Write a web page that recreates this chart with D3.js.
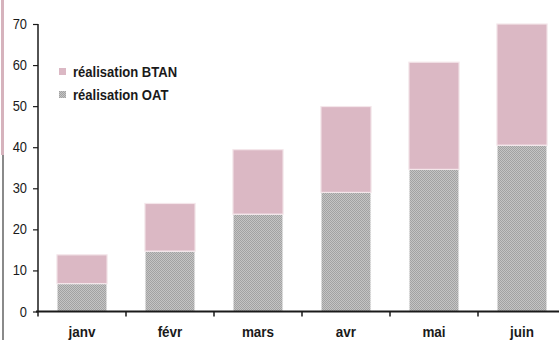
<!DOCTYPE html>
<html><head><meta charset="utf-8">
<script src="https://cdn.jsdelivr.net/npm/d3@7/dist/d3.min.js"></script>
<style>body{margin:0;background:#fff;}svg{display:block;}</style>
</head><body>
<svg id="c" width="559" height="340"></svg>
<script>
const categories = ["janv","févr","mars","avr","mai","juin"];
const oat = [6.8, 14.7, 23.7, 29.0, 34.6, 40.5];
const btanTotal = [13.8, 26.3, 39.4, 49.9, 60.7, 70.0];
const btan = btanTotal.map((t,i)=> +(t - oat[i]).toFixed(1));
const seriesNames = ["réalisation BTAN","réalisation OAT"];
const yTicks = [0,10,20,30,40,50,60,70];

const svg = d3.select("#c");
const defs = svg.append("defs");
const pat = defs.append("pattern").attr("id","dots").attr("width",2).attr("height",2).attr("patternUnits","userSpaceOnUse");
pat.append("rect").attr("width",2).attr("height",2).attr("fill","#c4c4c4");
pat.append("rect").attr("width",1).attr("height",1).attr("fill","#a2a2a2");
pat.append("rect").attr("x",1).attr("y",1).attr("width",1).attr("height",1).attr("fill","#a2a2a2");

const pink = "#dbb8c4";
const x0 = 38, bandW = 88;
const x = d3.scaleBand().domain(categories).range([x0, x0 + bandW*categories.length]).paddingInner(0.43).paddingOuter(0.215);
const y = d3.scaleLinear().domain([0,70]).range([311.5, 24]);

// left border strip
svg.append("line").attr("x1",2.5).attr("x2",2.5).attr("y1",0).attr("y2",155).attr("stroke","#d6b3bd").attr("stroke-width",3);
svg.append("line").attr("x1",3).attr("x2",3).attr("y1",155).attr("y2",340).attr("stroke","#8a8a8a").attr("stroke-width",2);

const font = "'Liberation Sans',Arial,sans-serif";
function label(px, py, str, opts){
  const t = svg.append("text").attr("transform",`translate(${px},${py}) scale(${opts.sx||0.86},1)`)
    .attr("font-family",font).attr("font-size",opts.size).attr("fill","#1a1a1a")
    .attr("text-anchor",opts.anchor||"start").text(str);
  if(opts.bold) t.attr("font-weight","bold");
  return t;
}

// bars
const g = svg.append("g");
categories.forEach((c,i)=>{
  g.append("rect").attr("x",x(c)).attr("width",x.bandwidth())
    .attr("y",y(oat[i])).attr("height",y(0)-y(oat[i]))
    .attr("fill","url(#dots)").attr("stroke","#fff").attr("stroke-width",1.2);
  g.append("rect").attr("x",x(c)).attr("width",x.bandwidth())
    .attr("y",y(oat[i]+btan[i])).attr("height",y(oat[i])-y(oat[i]+btan[i]))
    .attr("fill",pink).attr("stroke","#f4e6ea").attr("stroke-width",1.2);
});

// y axis
const ya = svg.append("g").attr("transform",`translate(${x0},0)`)
  .call(d3.axisLeft(y).tickValues(yTicks).tickSize(5).tickFormat(""));
ya.select(".domain").remove();
ya.selectAll(".tick line").attr("stroke","#1a1a1a").attr("stroke-width",1.2);
yTicks.forEach(v=> label(27, y(v)+5, String(v), {size:15, anchor:"end", sx:0.86}));
svg.append("line").attr("x1",x0).attr("x2",x0).attr("y1",y(70)).attr("y2",y(0)+5).attr("stroke","#1a1a1a").attr("stroke-width",1.5);

// x axis
svg.append("line").attr("x1",x0-2).attr("x2",559).attr("y1",y(0)).attr("y2",y(0)).attr("stroke","#1a1a1a").attr("stroke-width",2);
categories.forEach((c,i)=>{
  if(i>0){
    const bx = x0 + i*bandW;
    svg.append("line").attr("x1",bx).attr("x2",bx).attr("y1",y(0)).attr("y2",y(0)+5).attr("stroke","#1a1a1a").attr("stroke-width",1.5);
  }
  label(x(c)+x.bandwidth()/2, 337, c, {size:14.5, anchor:"middle", bold:true, sx:0.93});
});

// legend
const leg = [[seriesNames[0],pink],[seriesNames[1],"url(#dots)"]];
leg.forEach((d,i)=>{
  const ly = 72 + i*23;
  svg.append("rect").attr("x",59).attr("y",ly-4).attr("width",7).attr("height",7).attr("fill",d[1]);
  label(73, ly+5, d[0], {size:14.5, bold:true, sx:0.9});
});
</script>
</body></html>
